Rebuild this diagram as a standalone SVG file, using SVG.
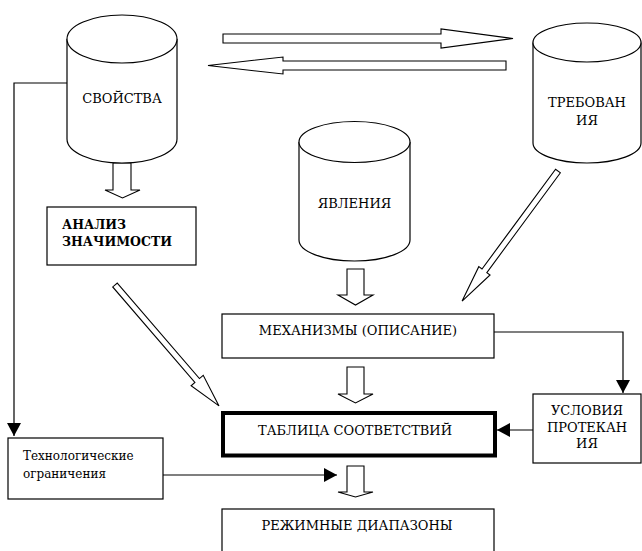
<svg xmlns="http://www.w3.org/2000/svg" width="642" height="551" viewBox="0 0 642 551">
<defs>
<style>
.s{fill:#fff;stroke:#000;stroke-width:1.2}
.ln{fill:none;stroke:#000;stroke-width:1.2}
.ha{fill:#fff;stroke:#000;stroke-width:1.1;stroke-linejoin:miter}
.c{text-anchor:middle}
.b{font-weight:bold;font-size:12.5px}
.sm{font-size:12px}
</style>
<marker id="ah" markerUnits="userSpaceOnUse" markerWidth="14" markerHeight="14" refX="13" refY="7" orient="auto">
<path d="M0,0 L13,7 L0,14 z" fill="#000"/>
</marker>
</defs>
<rect width="642" height="551" fill="#fff"/>

<g id="connectors">
<polyline class="ln" points="67,83 14,83 14,436" marker-end="url(#ah)"/>
<line class="ln" x1="163" y1="475" x2="337" y2="475" marker-end="url(#ah)"/>
<polyline class="ln" points="494,332 623,332 623,393" marker-end="url(#ah)"/>
<line class="ln" x1="533" y1="430" x2="497" y2="430" marker-end="url(#ah)"/>
<polygon class="ha" points="223,34 441,34 441,29 513,38.5 441,48 441,43 223,43"/>
<polygon class="ha" points="506,61 283,61 283,57 208,65.5 283,74 283,70 506,70"/>
<polygon class="ha" points="113,163 131,163 131,190 140,190 122.5,198 105,190 113,190"/>
<polygon class="ha" points="347,269 364,269 364,295 373,295 355.5,305 338,295 347,295"/>
<polygon class="ha" points="347,367 364,367 364,394 373,394 355.5,403 338,394 347,394"/>
<polygon class="ha" points="347,466 364,466 364,492 373,492 355.5,497 338,492 347,492"/>
<polygon class="ha" transform="translate(115,285) rotate(49.3)" points="0,-3 126,-3 126,-8 159.5,0 126,8 126,3 0,3"/>
<polygon class="ha" transform="translate(558,171) rotate(126.4)" points="0,-3 124,-3 124,-7 161.6,0 124,7 124,3 0,3"/>
</g>

<g font-family="DejaVu Serif, Liberation Serif, serif" font-size="13" fill="#000">
<g id="svoistva">
<path class="s" d="M67,39 L67,139 A55,24 0 0 0 177,139 L177,39"/>
<ellipse class="s" cx="122" cy="39" rx="55" ry="24"/>
<text class="c" x="122" y="103">СВОЙСТВА</text>
</g>

<g id="trebovaniya">
<path class="s" d="M533,42.5 L533,143 A54,20 0 0 0 641,143 L641,42.5"/>
<ellipse class="s" cx="587" cy="42.5" rx="54" ry="19.5"/>
<text class="c" x="587" y="107">ТРЕБОВАН</text>
<text class="c" x="587" y="125">ИЯ</text>
</g>

<g id="yavleniya">
<path class="s" d="M299,142 L299,240 A55.5,21 0 0 0 410,240 L410,142"/>
<ellipse class="s" cx="354.5" cy="142" rx="55.5" ry="20.5"/>
<text class="c" x="354.5" y="208">ЯВЛЕНИЯ</text>
</g>

<g id="analiz">
<rect class="s" x="47" y="207" width="149" height="58"/>
<text class="b" x="62" y="229">АНАЛИЗ</text>
<text class="b" x="62" y="246">ЗНАЧИМОСТИ</text>
</g>

<g id="mehanizmy">
<rect class="s" x="222" y="314" width="272" height="44"/>
<text class="c" x="358" y="335">МЕХАНИЗМЫ (ОПИСАНИЕ)</text>
</g>

<g id="tablica">
<rect x="223" y="413" width="272" height="42.5" fill="#fff" stroke="#000" stroke-width="4"/>
<text class="c" x="355" y="435">ТАБЛИЦА СООТВЕТСТВИЙ</text>
</g>

<g id="usloviya">
<rect class="s" x="533" y="394" width="108" height="69"/>
<text class="c" x="587" y="415">УСЛОВИЯ</text>
<text class="c" x="587" y="432">ПРОТЕКАН</text>
<text class="c" x="587" y="448">ИЯ</text>
</g>

<g id="tehnolog">
<rect class="s" x="8" y="438" width="155" height="61"/>
<text class="sm" x="23" y="460">Технологические</text>
<text class="sm" x="23" y="478">ограничения</text>
</g>

<g id="rezhimnye">
<rect class="s" x="222" y="509" width="272" height="50"/>
<text class="c" x="357" y="530">РЕЖИМНЫЕ ДИАПАЗОНЫ</text>
</g>
</g>
</svg>
